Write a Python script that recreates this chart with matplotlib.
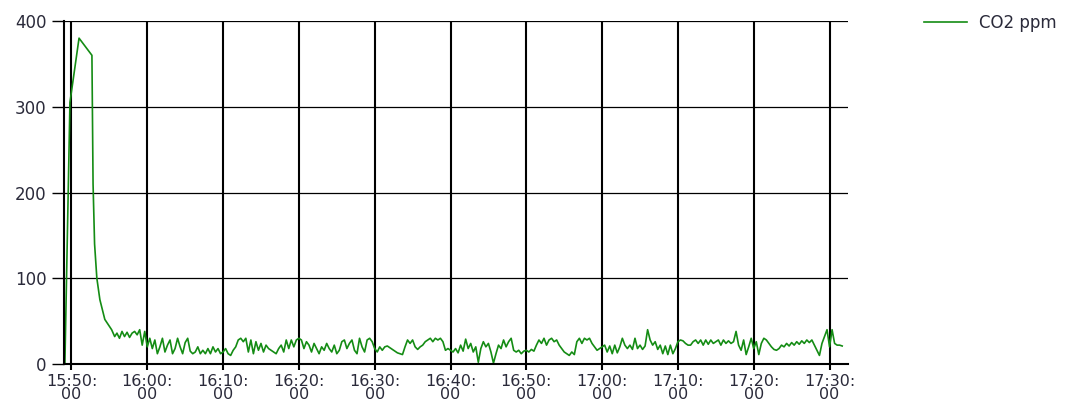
import matplotlib
matplotlib.use("Agg")
import matplotlib.pyplot as plt
import matplotlib.dates as mdates
import pandas as pd

# ---------------- data ----------------
series_name = "CO2 ppm"
day = "2020-01-01 "

# initial spike (irregular timestamps)
rise_times = ["15:49:08", "15:49:48", "15:51:00", "15:52:42", "15:52:51",
              "15:53:03", "15:53:21", "15:53:45", "15:54:24", "15:55:18",
              "15:55:42"]
rise_values = [0, 305, 380, 360, 210, 140, 100, 75, 52, 40, 32]

# background readings, logged every 20 s from 15:56:00
noise_start = "15:56:00"
noise_step_s = 20
vals_1556 = [36, 30, 38, 32, 37, 31, 36, 38, 34, 40, 22, 38]
vals_1600 = [20, 30, 18, 28, 12, 20, 30, 14, 22, 28, 12, 18, 30, 20, 12,
             25, 30, 15, 12, 14, 20, 12, 16, 12, 18, 12, 20, 14, 18, 12]
vals_1610 = [14, 18, 12, 10, 16, 20, 28, 30, 26, 30, 14, 28, 12, 26, 16,
             24, 14, 22, 18, 16, 14, 12, 18, 22, 14, 28, 18, 28, 20, 28]
vals_1620 = [30, 28, 18, 26, 22, 14, 24, 18, 12, 20, 16, 24, 18, 14, 22,
             12, 16, 26, 28, 18, 24, 28, 16, 12, 30, 20, 14, 28, 30, 26]
vals_1630 = [18, 14, 20, 16, 20, 21, 19, 17, 15, 13, 12, 11, 20, 28, 24,
             28, 20, 17, 20, 22, 26, 28, 30, 26, 30, 28, 30, 26, 16, 18]
vals_1640 = [16, 14, 18, 13, 22, 15, 29, 18, 24, 14, 20, 2, 18, 26, 20,
             24, 14, 1, 12, 22, 18, 28, 20, 26, 30, 16, 14, 16, 12, 15]
vals_1650 = [16, 14, 17, 15, 22, 28, 24, 30, 22, 28, 30, 26, 28, 22, 18,
             14, 12, 10, 14, 11, 26, 30, 24, 30, 28, 30, 24, 20, 16, 18]
vals_1700 = [20, 22, 14, 21, 12, 22, 13, 20, 30, 22, 18, 22, 17, 30, 18,
             22, 17, 21, 40, 28, 22, 26, 17, 22, 12, 21, 11, 22, 12, 18]
vals_1710 = [26, 28, 27, 24, 22, 22, 26, 28, 24, 28, 22, 28, 23, 28, 24,
             26, 28, 22, 28, 24, 27, 24, 26, 38, 22, 16, 28, 11, 20, 30]
vals_1720 = [18, 26, 11, 24, 30, 28, 24, 20, 17, 16, 18, 22, 20, 24, 21,
             25, 22, 26, 23, 27, 24, 28, 25, 28, 22, 16, 10, 24, 32, 40]
vals_1730 = [20, 40, 24, 22, 22, 21]

x_tick_times = ["15:50", "16:00", "16:10", "16:20", "16:30", "16:40",
                "16:50", "17:00", "17:10", "17:20", "17:30"]
x_range = ["15:49:01", "17:32:26"]
y_ticks = [0, 100, 200, 300, 400]

# ---------------- build series ----------------
noise_values = (vals_1556 + vals_1600 + vals_1610 + vals_1620 + vals_1630 +
                vals_1640 + vals_1650 + vals_1700 + vals_1710 + vals_1720 +
                vals_1730)
noise_times = pd.date_range(day + noise_start, periods=len(noise_values),
                            freq=f"{noise_step_s}s")
times = list(pd.to_datetime([day + t for t in rise_times])) + list(noise_times)
values = rise_values + noise_values

# ---------------- figure ----------------
W, H = 1071, 403
fig = plt.figure(figsize=(W / 100, H / 100), dpi=100)
ax = fig.add_axes([64 / W, 39 / H, 784 / W, 343 / H])

line, = ax.plot(times, values, color="#148c14", lw=1.2, label=series_name)

ax.set_xlim(pd.Timestamp(day + x_range[0]), pd.Timestamp(day + x_range[1]))
ax.set_ylim(y_ticks[0], y_ticks[-1])

ax.set_xticks([pd.Timestamp(day + t) for t in x_tick_times])
ax.xaxis.set_major_formatter(mdates.DateFormatter("%H:%M:\n%S"))
ax.set_yticks(y_ticks)

txt_color = "#2a2a3a"
ax.tick_params(axis="x", length=4, width=1.5, pad=3, labelsize=11.5,
               colors="black", labelcolor=txt_color)
ax.tick_params(axis="y", length=9, width=1.0, pad=3.5, labelsize=12,
               colors="black", labelcolor=txt_color)
for lab in ax.get_xticklabels():
    lab.set_linespacing(0.85)

ax.grid(axis="x", color="black", lw=1.5)
ax.grid(axis="y", color="black", lw=0.9)
ax.set_axisbelow(True)

for side in ("top", "right"):
    ax.spines[side].set_visible(False)
ax.spines["left"].set_linewidth(1.5)
ax.spines["bottom"].set_linewidth(1.5)

leg = ax.legend(loc="upper left", bbox_to_anchor=(924 / W, 1 - 14 / H),
                bbox_transform=fig.transFigure, frameon=False, fontsize=12,
                handlelength=2.6, handletextpad=0.7, borderpad=0,
                borderaxespad=0)
for t in leg.get_texts():
    t.set_color(txt_color)

fig.savefig("out.png", dpi=100)
